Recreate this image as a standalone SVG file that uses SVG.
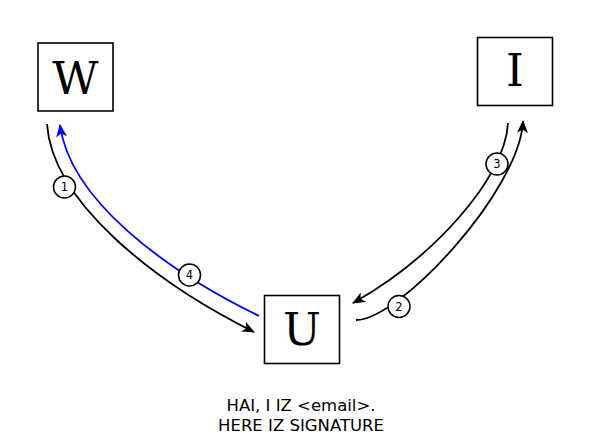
<svg xmlns="http://www.w3.org/2000/svg" width="599" height="440" viewBox="0 0 599 440">
<style>
.box{fill:#fff;stroke:#000;stroke-width:1.6}
.big{font-family:"DejaVu Serif",serif;font-size:45px;text-anchor:middle;fill:#000}
.edge{fill:none;stroke-width:1.8}
.lbl circle{fill:#fff;stroke:#000;stroke-width:1.5}
.lbl text{font-family:"DejaVu Sans",sans-serif;font-size:11.5px;text-anchor:middle;fill:#000}
.cap{font-family:"DejaVu Sans",sans-serif;font-size:16.5px;text-anchor:middle;fill:#000}
</style>
<defs>
<marker id="ak" viewBox="0 0 13 11" refX="12" refY="5.5" markerWidth="13" markerHeight="11" markerUnits="userSpaceOnUse" orient="auto">
<path d="M0,0 L13,5.5 L0,11 L3.5,5.5 z" fill="#000"/>
</marker>
<marker id="ab" viewBox="0 0 13 11" refX="12" refY="5.5" markerWidth="13" markerHeight="11" markerUnits="userSpaceOnUse" orient="auto">
<path d="M0,0 L13,5.5 L0,11 L3.5,5.5 z" fill="#00f"/>
</marker>
</defs>
<g id="connectors">
<path class="edge" stroke="#000" d="M47,124 C52,200 150,280 254,332" marker-end="url(#ak)"/>
<path class="edge" stroke="#00f" d="M259,316 C165,270 70,200 60,125" marker-end="url(#ab)"/>
<path class="edge" stroke="#000" d="M508,123 C505,180 430,260 353,303" marker-end="url(#ak)"/>
<path class="edge" stroke="#000" d="M356,320 C400,320 520,190 523,121" marker-end="url(#ak)"/>
<g class="lbl"><circle cx="64.5" cy="187" r="11"/><text x="64.5" y="191">1</text></g>
<g class="lbl"><circle cx="399" cy="306.5" r="11"/><text x="399" y="310.5">2</text></g>
<g class="lbl"><circle cx="497" cy="164" r="11"/><text x="497" y="168">3</text></g>
<g class="lbl"><circle cx="189.5" cy="275" r="11"/><text x="189.5" y="279">4</text></g>
</g>
<g id="W"><rect class="box" x="38" y="43" width="75" height="68"/><text class="big" x="75.5" y="94">W</text></g>
<g id="I"><rect class="box" x="477.5" y="37.5" width="75" height="68"/><text class="big" x="515" y="86">I</text></g>
<g id="U"><rect class="box" x="264.5" y="295.5" width="75" height="68"/><text class="big" x="302" y="345">U</text></g>
<g id="caption">
<text class="cap" x="301" y="411">HAI, I IZ &lt;email&gt;.</text>
<text class="cap" x="301" y="431">HERE IZ SIGNATURE</text>
</g>
</svg>
